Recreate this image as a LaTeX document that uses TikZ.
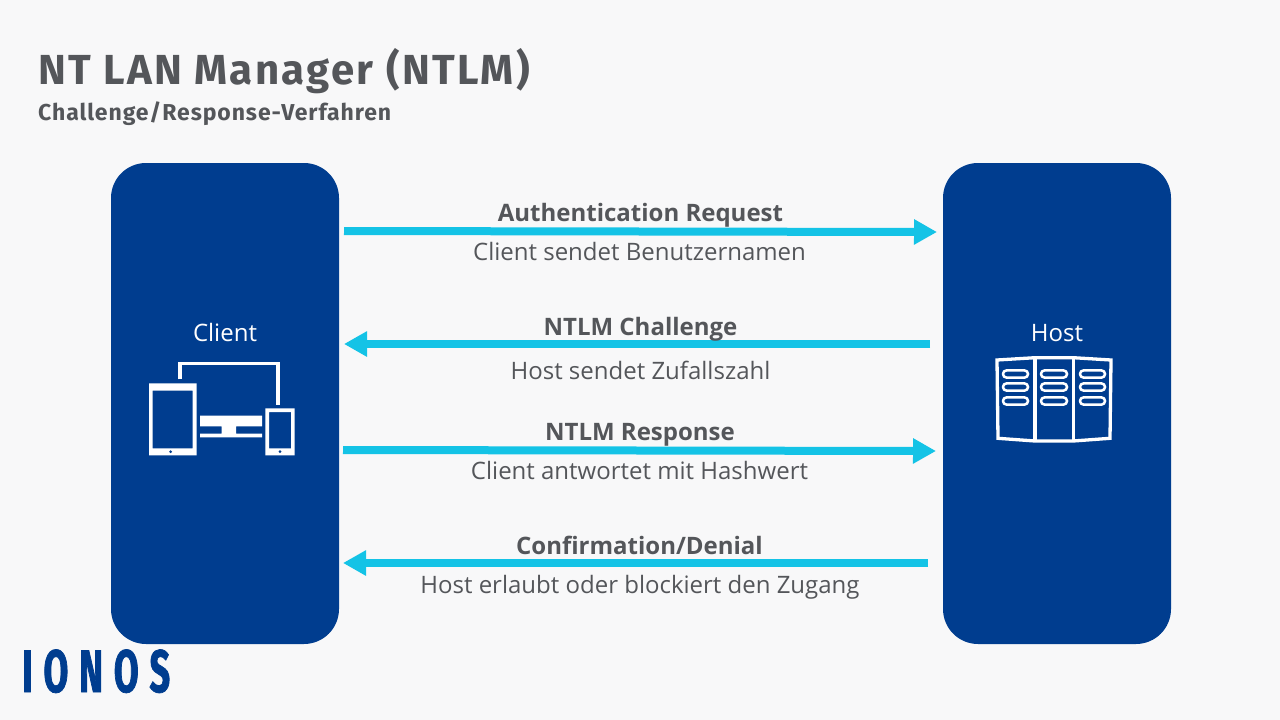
\documentclass[tikz,border=0pt]{standalone}
\usepackage{fontspec}
\setmainfont{Open Sans}
\newfontfamily\titlef[LetterSpace=5.6]{Fira Sans}
\newfontfamily\subtitlef[LetterSpace=4]{Fira Sans}
\newfontfamily\logof[FakeStretch=0.6,FakeBold=1.2,LetterSpace=18]{Fira Sans}
\usetikzlibrary{arrows.meta}
\definecolor{bgc}{HTML}{F8F8F9}
\definecolor{navy}{HTML}{003D8F}
\definecolor{cyanl}{HTML}{14C3E6}
\definecolor{txt}{HTML}{54565A}
\tikzset{
 panel/.style={fill=navy,draw=none,rounded corners=35pt,minimum width=228pt,minimum height=481pt,inner sep=0pt},
 flow/.style={draw=cyanl,line width=8pt,-{Triangle[length=23pt,width=24pt]}},
 head/.style={font=\fontsize{24}{28}\selectfont\bfseries,text=txt,inner sep=0pt,anchor=base},
 sub/.style={font=\fontsize{24}{28}\selectfont,text=txt,inner sep=0pt,anchor=base},
 plabel/.style={font=\fontsize{24}{28}\selectfont,text=white,inner sep=0pt,anchor=base},
 iconw/.style={fill=white,draw=none},
 iconl/.style={draw=white,line width=3.3pt},
 pill/.style={draw=white,line width=2.5pt,rounded corners=3.5pt}
}
\begin{document}
\begin{tikzpicture}[x=1pt,y=-1pt]
\useasboundingbox (0,0) rectangle (1280,720);
\fill[bgc] (0,0) rectangle (1280,720);
\node[anchor=base west,inner sep=0pt,text=txt,font=\fontsize{42}{48}\selectfont\titlef\bfseries] (title) at (38,84) {NT LAN Manager (NTLM)};
\node[anchor=base west,inner sep=0pt,text=txt,font=\fontsize{23}{27}\selectfont\subtitlef\bfseries] (subtitle) at (38,120) {Challenge/Response-Verfahren};
\node[panel] (client) at (225,403.5) {};
\node[panel] (host) at (1057,403.5) {};
\node[plabel] (clientl) at (225,341) {Client};
\node[plabel] (hostl) at (1057,341) {Host};
\coordinate (a1) at (344,231); \coordinate (b1) at (937,232);
\coordinate (a2) at (930,344); \coordinate (b2) at (344,344);
\coordinate (a3) at (343,450); \coordinate (b3) at (936,451);
\coordinate (a4) at (928,563); \coordinate (b4) at (343,563);
\draw[flow] (a1) -- (b1);
\draw[flow] (a2) -- (b2);
\draw[flow] (a3) -- (b3);
\draw[flow] (a4) -- (b4);
\node[head] (h1) at (640.5,221) {Authentication Request};
\node[sub] (s1) at (639.5,260) {Client sendet Benutzernamen};
\node[head] (h2) at (640.5,335) {NTLM Challenge};
\node[sub] (s2) at (640.5,379) {Host sendet Zufallszahl};
\node[head] (h3) at (640,440) {NTLM Response};
\node[sub] (s3) at (639.5,479) {Client antwortet mit Hashwert};
\node[head] (h4) at (639.5,554) {Confirmation/Denial};
\node[sub] (s4) at (640,593) {Host erlaubt oder blockiert den Zugang};
% client icon
\fill[iconw,even odd rule] (149,383.3) rectangle (196.7,455.3) (152.7,390.7) rectangle (192.7,448.3);
\fill[iconw,even odd rule] (265.3,408.3) rectangle (294.7,455.3) (269,412) rectangle (291,448.3);
\fill[navy] (170.7,451.7) circle (1.5) (280,451.7) circle (1.5);
\fill[iconw] (200,415.7) rectangle (262,426.3) (221.7,426) rectangle (236,434) (200,433.7) rectangle (262,437.3);
\draw[draw=white,line width=3.3pt] (180,379.3) -- (180,363.3) -- (278,363.3) -- (278,404.7);
% host icon
\draw[iconl,line join=miter] (997,360) -- (1035,357.7) -- (1073.3,357.7) -- (1111,360) -- (1110,438.3) -- (1073.3,441) -- (1035,441) -- (998,438.3) -- cycle;
\draw[iconl] (1035,357.7) -- (1035,441) (1073.3,357.7) -- (1073.3,441);
\foreach \yy in {374,387,401}{
 \draw[pill] (1003,\yy-3.6) rectangle (1028,\yy+3.6);
 \draw[pill] (1041,\yy-3.6) rectangle (1067,\yy+3.6);
 \draw[pill] (1080,\yy-3.6) rectangle (1105,\yy+3.6);
}
% logo
\node[anchor=base west,inner sep=0pt,text=navy,font=\fontsize{60}{60}\selectfont\logof\bfseries] (logo) at (22,692) {IONOS};
\end{tikzpicture}
\end{document}
